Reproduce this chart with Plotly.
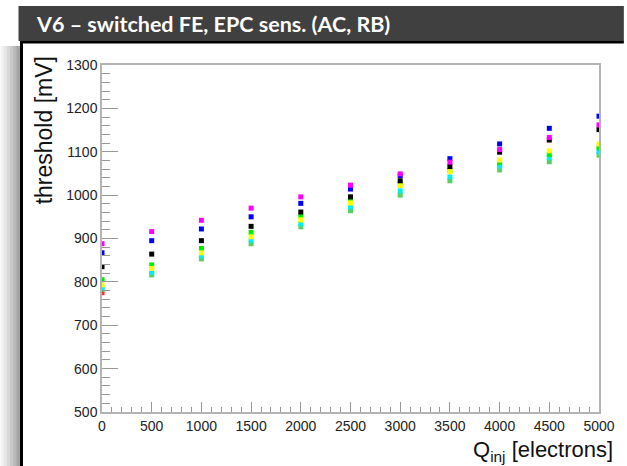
import plotly.graph_objects as go

# ---- data ----
q_inj = [0, 500, 1000, 1500, 2000, 2500, 3000, 3500, 4000, 4500, 5000]
thr_magenta = [888, 916, 942, 970, 996, 1023, 1049, 1076, 1105, 1133, 1162]
thr_blue = [867, 895, 922, 950, 981, 1014, 1045, 1084, 1118, 1154, 1182]
thr_black = [835, 864, 895, 928, 961, 996, 1033, 1066, 1099, 1127, 1151]
thr_green = [805, 839, 877, 914, 952, 990, 1028, 1057, 1075, 1094, 1109]
thr_yellow = [793, 831, 867, 904, 943, 982, 1022, 1054, 1081, 1102, 1118]
thr_cyan = [786, 822, 860, 896, 934, 973, 1010, 1042, 1067, 1086, 1100]
thr_lightgreen = [783, 816, 853, 888, 927, 964, 1000, 1033, 1058, 1077, 1092]
q_red = [0]
thr_red = [775]

title_text = "V6 – switched FE, EPC sens. (AC, RB)"
x_title = "Q<sub>inj</sub> [electrons]"
y_title = "threshold [mV]"

# ---- layout geometry ----
W, H = 627, 466
L, R, T, B = 102, 25, 65, 54
PW, PH = W - L - R, H - T - B


def px_x(p):
    return (p - L) / PW


def px_y(p):
    return 1 - (p - T) / PH


series = [
    ("red", q_red, thr_red, "#ff3030"),
    ("lightgreen", q_inj, thr_lightgreen, "#5ccf64"),
    ("cyan", q_inj, thr_cyan, "#00f0f0"),
    ("green", q_inj, thr_green, "#00ee00"),
    ("yellow", q_inj, thr_yellow, "#ffff00"),
    ("black", q_inj, thr_black, "#000000"),
    ("blue", q_inj, thr_blue, "#0000ff"),
    ("magenta", q_inj, thr_magenta, "#ff00ff"),
]

fig = go.Figure()
for name, xs, ys, col in series:
    fig.add_trace(go.Scatter(
        x=xs, y=ys, mode="markers", name=name,
        marker=dict(symbol="square", size=5, color=col, line=dict(width=0)),
        cliponaxis=True, showlegend=False,
    ))

axis_col = "#b4b4b4"
tickfont = dict(family="Liberation Sans, Arial", size=14, color="#222222")

fig.update_xaxes(
    range=[0, 5000], dtick=500, tick0=0,
    showline=True, mirror=True, linecolor=axis_col, linewidth=1.5,
    ticks="inside", ticklen=10, tickcolor="#999999", tickwidth=1,
    minor=dict(ticks="inside", ticklen=5, dtick=100, tickcolor="#999999", showgrid=False),
    showgrid=False, zeroline=False, tickfont=tickfont,
)
fig.update_yaxes(
    range=[500, 1300], dtick=100, tick0=500,
    showline=True, mirror=True, linecolor=axis_col, linewidth=1.5,
    ticks="inside", ticklen=16, tickcolor="#999999", tickwidth=1,
    minor=dict(ticks="inside", ticklen=8, dtick=20, tickcolor="#999999", showgrid=False),
    showgrid=False, zeroline=False, tickfont=tickfont,
)

shapes = []
# left shadow gradient
shadow_cols = ["#f2f2f2", "#e6e6e6", "#d8d8d8", "#c8c8c8", "#b8b8b8", "#a6a6a6"]
sw = 19 / len(shadow_cols)
for i, c in enumerate(shadow_cols):
    shapes.append(dict(type="rect", xref="paper", yref="paper",
                       x0=px_x(i * sw), x1=px_x((i + 1) * sw + 0.5),
                       y0=px_y(H), y1=px_y(46),
                       fillcolor=c, line=dict(width=0), layer="below"))
# white box (no outline) plus black left/top border lines
shapes.append(dict(type="rect", xref="paper", yref="paper",
                   x0=px_x(20.5), x1=px_x(W), y0=px_y(H), y1=px_y(42),
                   fillcolor="white", line=dict(width=0), layer="below"))
shapes.append(dict(type="line", xref="paper", yref="paper",
                   x0=px_x(21), x1=px_x(21), y0=px_y(H), y1=px_y(41),
                   line=dict(color="black", width=3), layer="below"))
shapes.append(dict(type="line", xref="paper", yref="paper",
                   x0=px_x(19.5), x1=px_x(W), y0=px_y(42), y1=px_y(42),
                   line=dict(color="black", width=3), layer="below"))
# title bar
shapes.append(dict(type="rect", xref="paper", yref="paper",
                   x0=px_x(18), x1=px_x(W), y0=px_y(41), y1=px_y(6),
                   fillcolor="#404040", line=dict(width=0), layer="below"))

annotations = [
    dict(text="<b>" + title_text + "</b>", xref="paper", yref="paper",
         x=px_x(34), y=px_y(24), xanchor="left", yanchor="middle", showarrow=False,
         font=dict(family="Lato, Open Sans", size=21.5, color="white")),
    dict(text=y_title, xref="paper", yref="paper", textangle=-90,
         x=px_x(44), y=px_y(54), xanchor="center", yanchor="top", showarrow=False,
         font=dict(family="Liberation Sans, Arial", size=23, color="#111111")),
    dict(text=x_title, xref="paper", yref="paper",
         x=px_x(618), y=px_y(435), xanchor="right", yanchor="top", showarrow=False,
         font=dict(family="Liberation Sans, Arial", size=22, color="#111111")),
]

fig.update_layout(
    width=W, height=H,
    margin=dict(l=L, r=R, t=T, b=B, pad=0),
    paper_bgcolor="white", plot_bgcolor="rgba(0,0,0,0)",
    shapes=shapes, annotations=annotations,
    showlegend=False,
)

fig.write_html("out.html")
